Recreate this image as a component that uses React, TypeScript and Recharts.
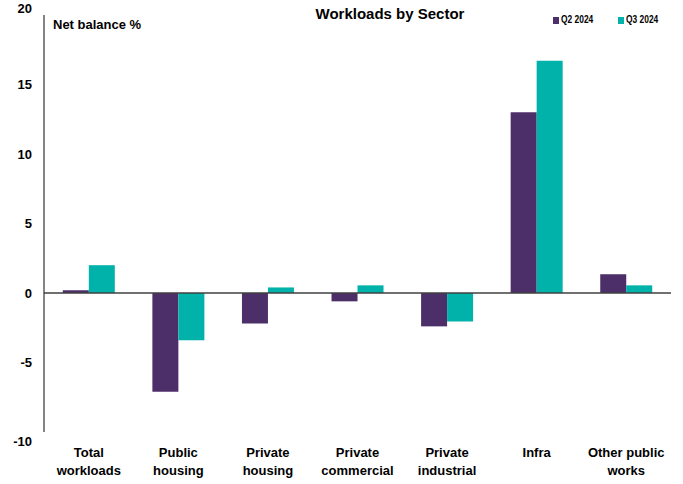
import React from "react";
import { BarChart, Bar, XAxis, YAxis, ReferenceLine } from "recharts";

const categories = [
  "Total\nworkloads",
  "Public\nhousing",
  "Private\nhousing",
  "Private\ncommercial",
  "Private\nindustrial",
  "Infra",
  "Other public\nworks",
];
const q2_2024 = [0.2, -7.1, -2.2, -0.6, -2.4, 13.0, 1.35];
const q3_2024 = [2.0, -3.4, 0.4, 0.55, -2.05, 16.7, 0.55];
const yTicks = [-10, -5, 0, 5, 10, 15, 20];
const seriesNames = ["Q2 2024", "Q3 2024"];
const colors = ["#4C2F69", "#00B2A9"];

const data = categories.map((c, i) => ({
  name: c,
  q2: q2_2024[i],
  q3: q3_2024[i],
}));

const FONT = "'Liberation Sans', Arial, sans-serif";

const YTick = (props: any) => {
  const { y, payload } = props;
  let dy = 0;
  if (payload.value === 20) dy = -7;
  if (payload.value === -10) dy = 9;
  return (
    <text
      x={32}
      y={y + dy}
      dy="0.35em"
      textAnchor="end"
      fontFamily={FONT}
      fontWeight="bold"
      fontSize={13}
      fill="#000"
    >
      {payload.value}
    </text>
  );
};

const XTick = (props: any) => {
  const { x, payload } = props;
  const lines = String(payload.value).split("\n");
  return (
    <text
      textAnchor="middle"
      fontFamily={FONT}
      fontWeight="bold"
      fontSize={13}
      fill="#000"
    >
      {lines.map((l, i) => (
        <tspan key={i} x={x} y={457 + i * 17.5}>
          {l}
        </tspan>
      ))}
    </text>
  );
};

export default function App() {
  return (
    <div style={{ position: "absolute", left: 0, top: 0, width: 683, height: 484, background: "#fff" }}>
      <BarChart
        width={683}
        height={484}
        data={data}
        margin={{ top: 15, right: 12, left: 0, bottom: 0 }}
        barCategoryGap="21%"
        barGap={0}
      >
        <XAxis
          dataKey="name"
          axisLine={false}
          tickLine={false}
          height={52}
          tick={<XTick />}
          interval={0}
        />
        <YAxis
          width={44}
          domain={[-10, 20]}
          ticks={yTicks}
          interval={0}
          axisLine={{ stroke: "#333", strokeWidth: 1.2 }}
          tickLine={false}
          tick={<YTick />}
        />
        <ReferenceLine y={0} stroke="#404040" strokeWidth={1.5} />
        <Bar dataKey="q2" name={seriesNames[0]} fill={colors[0]} isAnimationActive={false} />
        <Bar dataKey="q3" name={seriesNames[1]} fill={colors[1]} isAnimationActive={false} />
      </BarChart>
      <div
        style={{
          position: "absolute",
          left: 0,
          width: 780,
          top: 4,
          textAlign: "center",
          fontFamily: FONT,
          fontWeight: "bold",
          fontSize: 15,
          lineHeight: "20px",
          color: "#000",
        }}
      >
        Workloads by Sector
      </div>
      <div
        style={{
          position: "absolute",
          left: 53,
          top: 16,
          fontFamily: FONT,
          fontWeight: "bold",
          fontSize: 13,
          lineHeight: "18px",
          color: "#000",
        }}
      >
        Net balance %
      </div>
      {seriesNames.map((s, i) => (
        <div
          key={s}
          style={{
            position: "absolute",
            left: 553 + i * 65,
            top: 13,
            display: "flex",
            alignItems: "center",
            fontFamily: FONT,
            fontWeight: "bold",
            fontSize: 10,
            lineHeight: "14px",
            color: "#000",
          }}
        >
          <span style={{ display: "inline-block", width: 6, height: 7, background: colors[i], marginRight: 2 }} />
          <span style={{ display: "inline-block", transform: "scaleX(0.84)", transformOrigin: "left center", whiteSpace: "nowrap" }}>
            {s}
          </span>
        </div>
      ))}
    </div>
  );
}
